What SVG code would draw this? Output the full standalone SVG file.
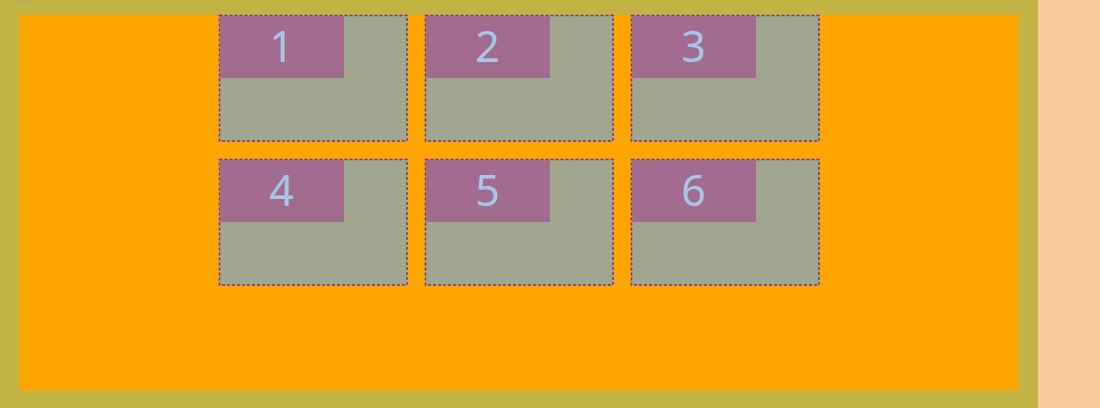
<svg xmlns="http://www.w3.org/2000/svg" width="1100" height="408" viewBox="0 0 1100 408">
<style>
.box{fill:#A1A68F;stroke:#663399;stroke-width:1.5;stroke-dasharray:3 2}
.hd{fill:#A26C8E}
.lbl{font-family:"Noto Sans","Open Sans","DejaVu Sans",sans-serif;font-size:43px;fill:#A7C7EA;text-anchor:middle}
</style>
<rect x="0" y="0" width="1100" height="408" fill="#F8CB9B"/>
<rect x="0" y="0" width="1038" height="408" fill="#C1B444"/>
<ellipse cx="24" cy="-3" rx="10" ry="6" fill="#A8A064" opacity="0.35"/>
<rect x="19" y="15" width="999.5" height="375.5" fill="#FFA500"/>
<g id="node1"><rect class="box" x="219.5" y="15.5" width="187.5" height="125.5"/><rect class="hd" x="220" y="16" width="124" height="62"/><text class="lbl" x="281.5" y="62">1</text></g>
<g id="node2"><rect class="box" x="425.5" y="15.5" width="187.5" height="125.5"/><rect class="hd" x="426" y="16" width="124" height="62"/><text class="lbl" x="487.5" y="62">2</text></g>
<g id="node3"><rect class="box" x="631.5" y="15.5" width="187.5" height="125.5"/><rect class="hd" x="632" y="16" width="124" height="62"/><text class="lbl" x="693.5" y="62">3</text></g>
<g id="node4"><rect class="box" x="219.5" y="159.5" width="187.5" height="125.5"/><rect class="hd" x="220" y="160" width="124" height="62"/><text class="lbl" x="281.5" y="206">4</text></g>
<g id="node5"><rect class="box" x="425.5" y="159.5" width="187.5" height="125.5"/><rect class="hd" x="426" y="160" width="124" height="62"/><text class="lbl" x="487.5" y="206">5</text></g>
<g id="node6"><rect class="box" x="631.5" y="159.5" width="187.5" height="125.5"/><rect class="hd" x="632" y="160" width="124" height="62"/><text class="lbl" x="693.5" y="206">6</text></g>
<g id="connectors"></g>
</svg>
